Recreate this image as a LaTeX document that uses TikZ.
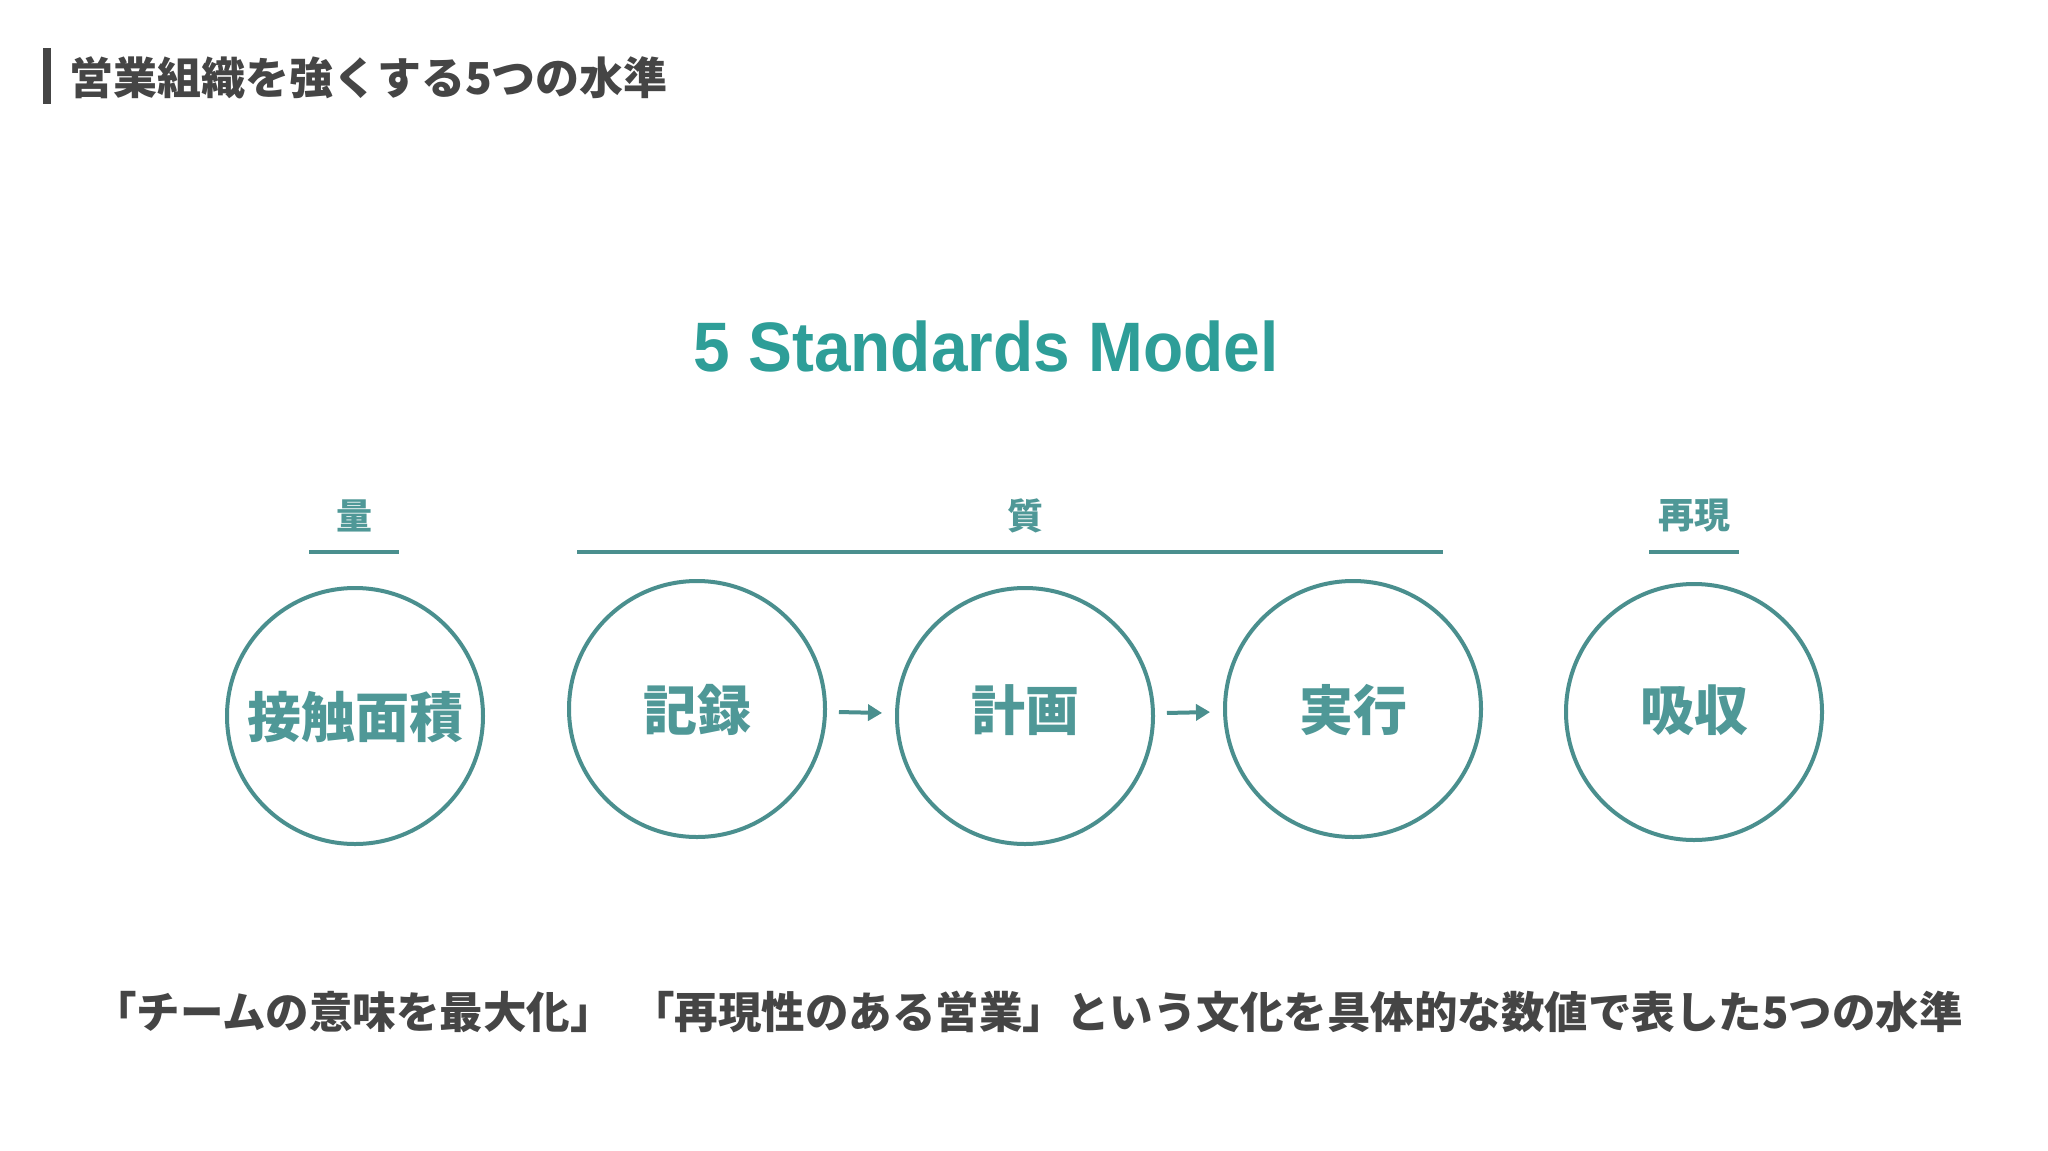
\documentclass[tikz,border=0pt]{standalone}
\usepackage{fontspec}
\setmainfont{Liberation Sans}
\newfontfamily\modelfont{Liberation Sans}[FakeStretch=0.94]
\newfontfamily\jpfont{Noto Sans CJK JP}
\usepackage{xcolor}
\usetikzlibrary{arrows.meta,calc}
\definecolor{modelteal}{HTML}{2E9E98}
\definecolor{ringteal}{HTML}{4A8F8E}
\definecolor{wordteal}{HTML}{4F9897}
\definecolor{slidegray}{HTML}{454545}
\tikzstyle{ring}=[circle, draw=ringteal, line width=4pt, minimum size=256pt, inner sep=0pt]
\tikzstyle{ringword}=[text=wordteal, font=\jpfont\bfseries\fontsize{54}{58}\selectfont, inner sep=0pt]
\tikzstyle{grouplabel}=[text=wordteal, font=\jpfont\bfseries\fontsize{36}{40}\selectfont]
\tikzstyle{rule}=[draw=ringteal, line width=4pt]
\tikzstyle{flowarrow}=[draw=ringteal, line width=4pt, -{Triangle[length=14pt,width=16pt]}, shorten <=12pt, shorten >=13pt]
\tikzstyle{slidetext}=[text=slidegray, font=\jpfont\bfseries\fontsize{44}{48}\selectfont, inner sep=0pt]
\newcommand{\stdring}[4]{
 \node[ring] (#1) at #2 {};
 \node[ringword] (#1word) at #3 {#4};
}

\begin{document}
\begin{tikzpicture}[x=1pt,y=-1pt]
 \useasboundingbox[fill=white] (0,0) rectangle (2048,1151);
%
 \fill[slidegray] (43,48) rectangle (51,104);
 \node[slidetext, anchor=west] (heading) at (69,78) {営業組織を強くする5つの水準};
 \node[text=modelteal, font=\modelfont\bfseries\fontsize{70}{80}\selectfont] (model) at (986,346) {5 Standards Model};
%
 \stdring{contact}{(355,716)}{(355,717)}{接触面積}
 \stdring{record}{(697,709)}{(697,710)}{記録}
 \stdring{plan}{(1025,716)}{(1025,710)}{計画}
 \stdring{execute}{(1353,709)}{(1353,710)}{実行}
 \stdring{absorb}{(1694,712)}{(1694,710)}{吸収}
 \draw[flowarrow] (record) -- (plan);
 \draw[flowarrow] (plan) -- (execute);
%
 \node[grouplabel] (quantity) at (354,516) {量};
 \node[grouplabel] (quality) at (1025,516) {質};
 \node[grouplabel] (repro) at (1694,516) {再現};
 \draw[rule] (309,552) -- (399,552);
 \draw[rule] (577,552) -- (1443,552);
 \draw[rule] (1649,552) -- (1739,552);
%
 \node[slidetext, font=\jpfont\bfseries\fontsize{43.5}{47}\selectfont] (summary) at (1028,1012) {「チームの意味を最大化」\hspace{0.4em}「再現性のある営業」という文化を具体的な数値で表した5つの水準};
\end{tikzpicture}
\end{document}
